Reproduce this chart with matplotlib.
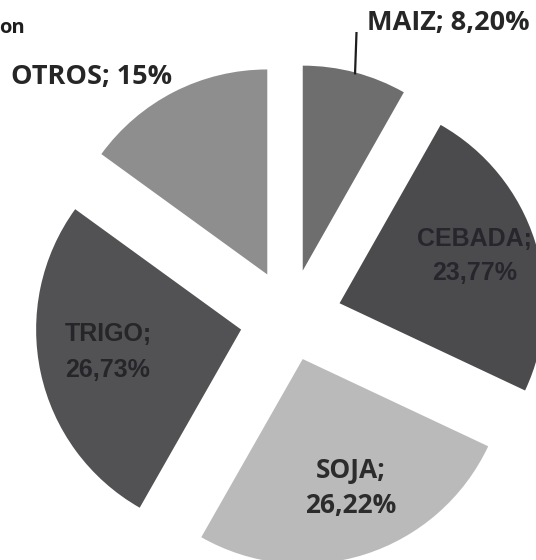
import numpy as np
import matplotlib
matplotlib.use("Agg")
import matplotlib.pyplot as plt

# data (clockwise from 12 o'clock)
categories = ["MAIZ", "CEBADA", "SOJA", "TRIGO", "OTROS"]
shares = [8.20, 23.77, 26.22, 26.73, 15.0]
pct_text = ["8,20%", "23,77%", "26,22%", "26,73%", "15%"]

# styling / layout (pixel space, y measured from bottom)
W, H = 536, 560
colors = ["#6e6e6e", "#4b4b4e", "#bababa", "#525254", "#8e8e8e"]
center = (290, H - 319)
radius = 205
explode = [50, 52, 42, 50, 50]

fig = plt.figure(figsize=(W / 100, H / 100), dpi=100)
ax = fig.add_axes([0, 0, 1, 1])

wedges, _ = ax.pie(
    shares,
    startangle=90,
    counterclock=False,
    colors=colors,
    center=center,
    radius=radius,
    explode=explode,
    wedgeprops=dict(linewidth=0),
)
ax.set_xlim(0, W)
ax.set_ylim(0, H)
ax.set_aspect("equal")
ax.axis("off")

calibri_like = dict(family="Open Sans", weight="bold")
arial_like = dict(family="Liberation Sans", weight="bold")

# leader line for the small slice, from the middle of its outer arc
w = wedges[0]
mid = np.deg2rad((w.theta1 + w.theta2) / 2)
tip_x = w.center[0] + w.r * np.cos(mid)
tip_y = w.center[1] + w.r * np.sin(mid)
ax.plot([tip_x, tip_x + 1.5], [tip_y - 2, H - 32], color="#1e1e1e", lw=1.6,
        solid_capstyle="butt")

# outside labels
ax.text(367, H - 23, f"{categories[0]}; {pct_text[0]}", ha="left", va="center",
        fontsize=19.5, color="#262626", **calibri_like)
ax.text(92, H - 77, f"{categories[4]}; {pct_text[4]}", ha="center", va="center",
        fontsize=19.5, color="#262626", **calibri_like)

# inside labels
ax.text(475, H - 256, f"{categories[1]};\n{pct_text[1]}", ha="center", va="center",
        fontsize=18, color="#26262c", linespacing=1.5, **arial_like)
ax.text(108, H - 352, f"{categories[3]};\n{pct_text[3]}", ha="center", va="center",
        fontsize=18, color="#26262a", linespacing=1.6, **arial_like)
ax.text(351, H - 488, f"{categories[2]};\n{pct_text[2]}", ha="center", va="center",
        fontsize=19, color="#2c2c2c", linespacing=1.35, **calibri_like)

# cut-off title fragment
ax.text(-1, H - 28, "on", ha="left", va="center", fontsize=14.5,
        color="#1e1e1e", **calibri_like)

fig.savefig("out.png", dpi=100, facecolor="white")
